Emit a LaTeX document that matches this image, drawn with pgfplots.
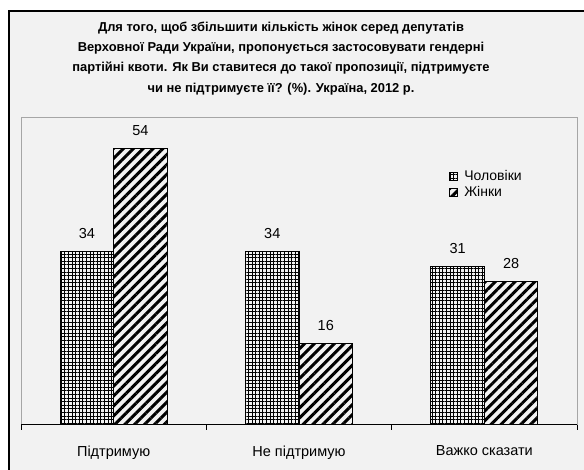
\documentclass[border=0pt]{standalone}
\usepackage{pgfplots}
\pgfplotsset{compat=1.18}
\usetikzlibrary{patterns.meta}
\usepackage{fontspec}
\setmainfont{Liberation Sans}
\definecolor{bg}{HTML}{F2F2F2}
\definecolor{pa}{HTML}{A6A6A6}
\begin{document}
\begin{tikzpicture}
\useasboundingbox (0pt,0pt) rectangle (584pt,470pt);
\fill[white] (0pt,0pt) rectangle (584pt,470pt);
\fill[bg] (9pt,-10pt) rectangle (600pt,459pt);
\draw[black,line width=1.2pt] (9pt,-10pt) -- (9pt,459pt) -- (600pt,459pt);
\node[align=center,font=\bfseries\fontsize{12.9}{20.2}\selectfont] at (281pt,411.5pt)
{Для того, щоб збільшити кількість жінок серед депутатів\\
Верховної Ради України, пропонується застосовувати гендерні\\
партійні квоти. Як Ви ставитеся до такої пропозиції, підтримуєте\\
чи не підтримуєте її? (\%). Україна, 2012 р.};
\begin{axis}[
  at={(21pt,45pt)}, anchor=south west,
  scale only axis, width=556pt, height=307pt,
  ybar=0pt, bar width=53.5pt,
  xmin=0.5, xmax=3.5, ymin=0, ymax=60,
  axis line style={draw=pa, line width=1pt},
  xtick={1,2,3},
  xticklabels={Підтримую, Не підтримую, Важко сказати},
  major x tick style={draw=none},
  minor xtick={0.5,1.5,2.5,3.5},
  minor tick length=5pt,
  minor x tick style={black, line width=0.8pt},
  tick align=outside, xtick pos=bottom,
  x tick label style={font=\fontsize{14.5}{16}\selectfont, yshift=-13pt},
  ytick=\empty,
  /pgf/number format/assume math mode=true,
  nodes near coords,
  every node near coord/.append style={font=\fontsize{14.5}{16}\selectfont, black, yshift=9pt},
  legend cell align=left,
  legend style={at={(0.77,0.837)}, anchor=north west, draw=none, fill=none,
    font=\fontsize{14}{15}\selectfont, inner sep=0pt, row sep=0.5pt,
    /tikz/every odd column/.append style={column sep=4pt}},
  legend image code/.code={\draw[#1] (0pt,-4pt) rectangle (8pt,4pt);},
  after end axis/.code={\draw[black,line width=1pt] (rel axis cs:0,0) -- (rel axis cs:1,0);},
]
\addplot[draw=black, line width=1pt, pattern={Hatch[distance=3.6pt, line width=0.7pt, angle=0]}]
  coordinates {(1,34) (2,34) (3,31)};
\addplot[draw=black, line width=1pt, pattern={Lines[distance=7pt, line width=3pt, angle=45]}]
  coordinates {(1,54) (2,16) (3,28)};
\legend{Чоловіки, Жінки}
\end{axis}
\end{tikzpicture}
\end{document}
